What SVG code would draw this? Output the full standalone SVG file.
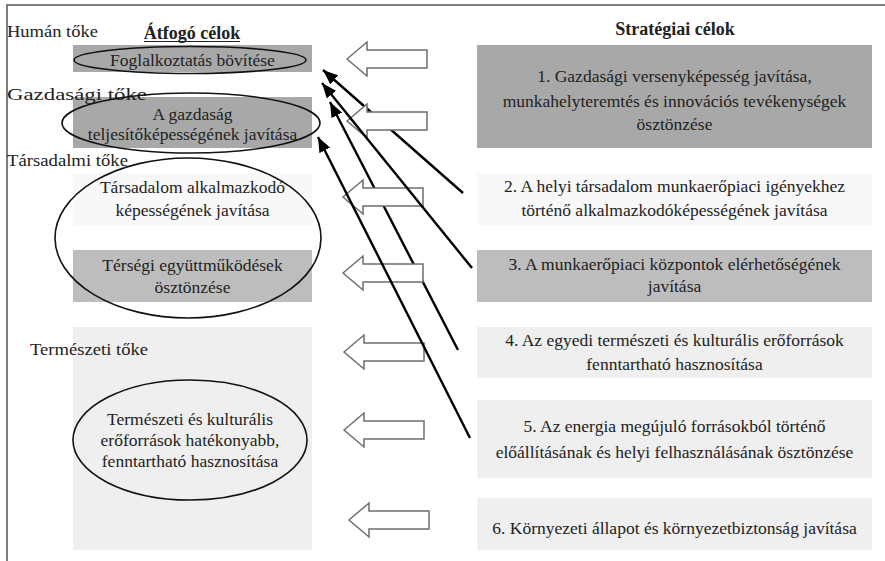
<svg xmlns="http://www.w3.org/2000/svg" width="885" height="561" viewBox="0 0 885 561">
<defs>
<style>
.t{font-family:"Liberation Serif","Times New Roman",serif;font-size:17.5px;fill:#222;}
.c{text-anchor:middle;}
.b{font-weight:bold;font-size:18px;}
.dk{fill:#a8a8a8;}
.md{fill:#bdbdbd;}
.lt{fill:#f8f8f8;}
.pl{fill:#efefef;}
.ell{fill:none;stroke:#111;stroke-width:1.6;}
.ha{fill:#fff;stroke:#6e6e6e;stroke-width:1.5;}
.ln{stroke:#000;stroke-width:2.4;fill:none;marker-end:url(#ah);}
</style>
<marker id="ah" markerUnits="userSpaceOnUse" markerWidth="16" markerHeight="12" refX="15" refY="6" orient="auto">
<path d="M0,0 L15,6 L0,12 z" fill="#000"/>
</marker>
<path id="harrow" d="M0,0 L20,-17 L20,-9 L80,-9 L80,9 L20,9 L20,17 z"/>
</defs>
<rect width="885" height="561" fill="#fff"/>
<g id="frame">
<path d="M7,561 L7,5 L885,5" fill="none" stroke="#555" stroke-width="1.5"/>
</g>
<g id="left-col">
<g id="box-foglalkoztatas">
<rect class="dk" x="73" y="45" width="239" height="27"/>
<text class="t c" x="192.5" y="66">Foglalkoztatás bövítése</text>
</g>
<g id="box-gazdasag">
<rect class="dk" x="73" y="97" width="239" height="51"/>
<text class="t c" x="192.5" y="120">A gazdaság</text>
<text class="t c" x="192.5" y="140">teljesítőképességének javítása</text>
</g>
<g id="box-tarsadalom">
<rect class="lt" x="73" y="173" width="239" height="52"/>
<text class="t c" x="192.5" y="193">Társadalom alkalmazkodó</text>
<text class="t c" x="192.5" y="216">képességének javítása</text>
</g>
<g id="box-tersegi">
<rect class="md" x="73" y="250" width="239" height="52"/>
<text class="t c" x="192.5" y="271">Térségi együttműködések</text>
<text class="t c" x="192.5" y="293">ösztönzése</text>
</g>
<g id="box-termeszeti">
<rect class="pl" x="73" y="327" width="239" height="223"/>
<text class="t c" x="190" y="425">Természeti és kulturális</text>
<text class="t c" x="190" y="446">erőforrások hatékonyabb,</text>
<text class="t c" x="190" y="467">fenntartható hasznosítása</text>
</g>
</g>
<g id="labels">
<text class="t" x="7" y="37" textLength="91" lengthAdjust="spacingAndGlyphs">Humán tőke</text>
<text class="t b c" x="192" y="39">Átfogó célok</text>
<line x1="144" y1="41.5" x2="240" y2="41.5" stroke="#222" stroke-width="1"/>
<text class="t" x="7" y="100" textLength="140" lengthAdjust="spacingAndGlyphs">Gazdasági tőke</text>
<text class="t" x="7" y="166" textLength="121" lengthAdjust="spacingAndGlyphs">Társadalmi tőke</text>
<text class="t" x="30" y="355" textLength="118" lengthAdjust="spacingAndGlyphs">Természeti tőke</text>
<text class="t b c" x="675" y="35">Stratégiai célok</text>
</g>
<g id="ellipses">
<ellipse class="ell" cx="190" cy="60" rx="116" ry="13.5"/>
<ellipse class="ell" cx="191" cy="123" rx="129" ry="30"/>
<ellipse class="ell" cx="188" cy="238" rx="133" ry="80"/>
<ellipse class="ell" cx="190" cy="440" rx="117" ry="60"/>
</g>
<g id="right-col">
<g id="s1">
<rect class="dk" x="477" y="45" width="395" height="103"/>
<text class="t c" x="674.5" y="82">1. Gazdasági versenyképesség javítása,</text>
<text class="t c" x="674.5" y="107">munkahelyteremtés és innovációs tevékenységek</text>
<text class="t c" x="674.5" y="130">ösztönzése</text>
</g>
<g id="s2">
<rect class="lt" x="477" y="173" width="395" height="52"/>
<text class="t c" x="674.5" y="192">2. A helyi társadalom munkaerőpiaci igényekhez</text>
<text class="t c" x="674.5" y="216">történő alkalmazkodóképességének javítása</text>
</g>
<g id="s3">
<rect class="md" x="477" y="250" width="395" height="52"/>
<text class="t c" x="674.5" y="270">3. A munkaerőpiaci központok elérhetőségének</text>
<text class="t c" x="674.5" y="292">javítása</text>
</g>
<g id="s4">
<rect class="pl" x="477" y="327" width="395" height="51"/>
<text class="t c" x="674.5" y="346">4. Az egyedi természeti és kulturális erőforrások</text>
<text class="t c" x="674.5" y="370">fenntartható hasznosítása</text>
</g>
<g id="s5">
<rect class="pl" x="477" y="400" width="395" height="78"/>
<text class="t c" x="674.5" y="432">5. Az energia megújuló forrásokból történő</text>
<text class="t c" x="674.5" y="458">előállításának és helyi felhasználásának ösztönzése</text>
</g>
<g id="s6">
<rect class="pl" x="477" y="498" width="395" height="52"/>
<text class="t c" x="674.5" y="534">6. Környezeti állapot és környezetbiztonság javítása</text>
</g>
</g>
<g id="connectors">
<line class="ln" x1="463" y1="193" x2="323" y2="70"/>
<line class="ln" x1="458" y1="350" x2="330" y2="102"/>
<use href="#harrow" class="ha" x="347" y="59"/>
<use href="#harrow" class="ha" x="347" y="121"/>
<use href="#harrow" class="ha" x="343" y="197"/>
<use href="#harrow" class="ha" x="343" y="273"/>
<use href="#harrow" class="ha" x="344" y="352"/>
<use href="#harrow" class="ha" x="344" y="430"/>
<use href="#harrow" class="ha" x="349" y="520"/>
<line class="ln" x1="472" y1="268" x2="322" y2="83"/>
<line class="ln" x1="470" y1="438" x2="318" y2="137"/>
</g>
</svg>
